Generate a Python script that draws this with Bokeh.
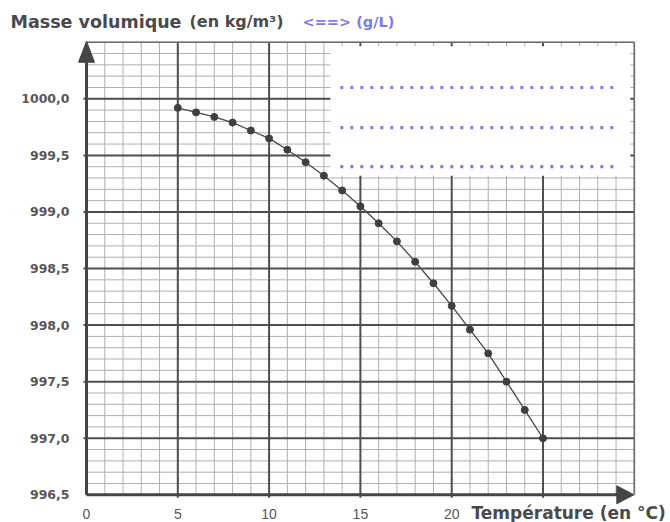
import numpy as np
from bokeh.plotting import figure
from bokeh.models import Range1d
from bokeh.core.properties import value
from bokeh.embed import file_html
from bokeh.resources import INLINE

# ---- data ----
temperature = [5, 6, 7, 8, 9, 10, 11, 12, 13, 14, 15, 16, 17, 18, 19, 20, 21, 22, 23, 24, 25]
density = [999.92, 999.88, 999.84, 999.79, 999.72, 999.65, 999.55, 999.44, 999.32, 999.19,
           999.05, 998.90, 998.74, 998.56, 998.37, 998.17, 997.96, 997.75, 997.50, 997.25, 997.00]

x_ticks = [0, 5, 10, 15, 20]
x_tick_labels = ["0", "5", "10", "15", "20"]
y_ticks = [996.5, 997.0, 997.5, 998.0, 998.5, 999.0, 999.5, 1000.0]
y_tick_labels = ["996,5", "997,0", "997,5", "998,0", "998,5", "999,0", "999,5", "1000,0"]

title_main = "Masse volumique"
title_unit = "(en kg/m³)"
title_alt = "<==> (g/L)"
x_title = "Température (en °C)"

# ---- geometry ----
X_MIN, X_MAX = 0.0, 30.0
Y_MIN, Y_MAX = 996.5, 1000.5
W, H = 670, 522
PX_X = 18.26      # pixels per °C
PX_Y = 113.15     # pixels per kg/m3
X0_PX = 86.0      # canvas x of x=0
Y1000_PX = 98.3   # canvas y of 1000.0

x_start = -X0_PX / PX_X
x_end = x_start + W / PX_X
y_end = 1000.0 + Y1000_PX / PX_Y
y_start = y_end - H / PX_Y


def dx(px):
    return px / PX_X


def dy(px):
    return px / PX_Y


def cx(px):
    return x_start + px / PX_X


def cy(py):
    return y_end - py / PX_Y


p = figure(width=W, height=H, x_range=Range1d(x_start, x_end), y_range=Range1d(y_start, y_end),
           output_backend="svg", toolbar_location=None, min_border=0,
           x_axis_location=None, y_axis_location=None)
p.grid.visible = False
p.outline_line_color = None
p.background_fill_color = "white"
p.border_fill_color = "white"

# ---- graph paper grid ----
minor_x = np.arange(0, 31, 1)
minor_y = np.round(np.arange(996.5, 1000.5001, 0.1), 2)
p.segment(x0=minor_x, y0=Y_MIN, x1=minor_x, y1=Y_MAX, line_color="#b0b0b0", line_width=1)
p.segment(x0=X_MIN, y0=minor_y, x1=X_MAX, y1=minor_y, line_color="#b0b0b0", line_width=1)

major_x = [5, 10, 15, 20, 25]
major_y = [997.0, 997.5, 998.0, 998.5, 999.0, 999.5, 1000.0]
p.segment(x0=major_x, y0=Y_MIN - dy(3), x1=major_x, y1=Y_MAX, line_color="#4f4f4f", line_width=2)
p.segment(x0=X_MIN - dx(3), y0=major_y, x1=X_MAX, y1=major_y, line_color="#4f4f4f", line_width=2)

# white answer box
box_left, box_right = 13.36, 29.78
box_bottom, box_top = 999.32, 1000.465
p.quad(left=box_left, right=box_right, bottom=box_bottom, top=box_top,
       fill_color="white", line_color=None)

# border lines (right / top)
p.segment(x0=[X_MAX], y0=[Y_MIN], x1=[X_MAX], y1=[Y_MAX], line_color="#6a6a6a", line_width=1.6)
p.segment(x0=[X_MIN], y0=[Y_MAX], x1=[X_MAX], y1=[Y_MAX], line_color="#6a6a6a", line_width=1.6)

# dotted writing lines
dot_y = [1000.10, 999.745, 999.40]
p.segment(x0=13.9, y0=dot_y, x1=29.15, y1=dot_y, line_color="#7d7de8",
          line_width=3.2, line_dash="3 7")

# ---- axes with arrows ----
ax_col = "#454545"
y_tip = Y_MAX + dy(1)
y_base = y_tip - dy(21)
x_tip = X_MAX - dx(0.5)
x_base = x_tip - dx(17)
p.segment(x0=[X_MIN], y0=[Y_MIN], x1=[X_MIN], y1=[y_base + dy(1)], line_color=ax_col, line_width=3)
p.segment(x0=[X_MIN], y0=[Y_MIN], x1=[x_base + dx(1)], y1=[Y_MIN], line_color=ax_col, line_width=3)
p.patch(x=[X_MIN - dx(8), X_MIN, X_MIN + dx(8)], y=[y_base, y_tip, y_base], color=ax_col)
p.patch(x=[x_base, x_tip, x_base], y=[Y_MIN - dy(9), Y_MIN, Y_MIN + dy(9)], color=ax_col)

# ---- data curve ----
p.line(temperature, density, line_color="#474747", line_width=1.3)
p.scatter(temperature, density, size=7, fill_color="#3f3f3f", line_color="#3f3f3f")

# ---- texts ----
lab_col = "#575757"
p.text(x=[cx(69)] * len(y_ticks), y=y_ticks, text=y_tick_labels,
       text_font=value("DejaVu Sans"), text_font_style="bold", text_font_size="12.5px",
       text_color=lab_col, text_align="right", text_baseline="middle")

p.text(x=x_ticks, y=[cy(513)] * len(x_ticks), text=x_tick_labels,
       text_font=value("Liberation Sans"), text_font_size="14px",
       text_color=lab_col, text_align="center", text_baseline="alphabetic")

p.text(x=[cx(471)], y=[cy(512)], text=[x_title],
       text_font=value("DejaVu Sans"), text_font_style="bold", text_font_size="17px",
       text_color="#4a4a4a", text_align="left", text_baseline="alphabetic")

p.text(x=[cx(10)], y=[cy(21)], text=[title_main],
       text_font=value("DejaVu Sans"), text_font_style="bold", text_font_size="17.5px",
       text_color="#4a4a4a", text_align="left", text_baseline="alphabetic")
p.text(x=[cx(189)], y=[cy(21)], text=[title_unit],
       text_font=value("DejaVu Sans"), text_font_style="bold", text_font_size="16px",
       text_color="#4a4a4a", text_align="left", text_baseline="alphabetic")
p.text(x=[cx(302)], y=[cy(21)], text=[title_alt],
       text_font=value("DejaVu Sans"), text_font_style="bold", text_font_size="14.5px",
       text_color="#7b7bea", text_align="left", text_baseline="alphabetic")

open("out.html", "w").write(file_html(p, INLINE))
